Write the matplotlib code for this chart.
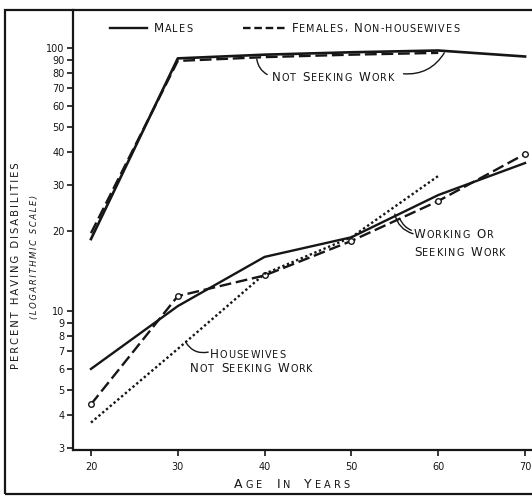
import matplotlib
matplotlib.use("Agg")
import matplotlib.pyplot as plt
from matplotlib.lines import Line2D
from matplotlib.patches import Rectangle
from matplotlib.offsetbox import TextArea, HPacker, VPacker, DrawingArea, AnnotationBbox

# values (percent having disabilities, log scale)
ages = [20, 30, 40, 50, 60, 70]
male_not_seeking = [18.7, 91, 94, 96, 97.5, 92.5]
female_not_seeking = [19.7, 89, 92, 94, 95.5]
male_working = [6.0, 10.4, 16.0, 19.0, 27.5, 36.4]
female_working = [4.4, 11.35, 13.6, 18.4, 26.1, 39.4]
housewives = [3.75, 7.15, 13.8, 19.0, 32.5]

y_ticks = [3, 4, 5, 6, 7, 8, 9, 10, 20, 30, 40, 50, 60, 70, 80, 90, 100]
x_ticks = [20, 30, 40, 50, 60, 70]

INK = "#161616"
plt.rcParams["font.family"] = ["DejaVu Sans"]


def smallcaps(text, big=8.6, small=6.9, track=0.7, gap=5):
    # hand-lettered look: first letter of each word larger, the rest small caps
    words = []
    for w in text.split():
        letters = []
        for i, ch in enumerate(w):
            size = big if i == 0 else small
            letters.append(TextArea(ch.upper(), textprops=dict(fontsize=size, color=INK)))
        words.append(HPacker(children=letters, sep=track, align="baseline", pad=0))
    return HPacker(children=words, sep=gap, align="baseline", pad=0)


def place(ax, box, xy, coords="data", align=(0, 0.5)):
    ab = AnnotationBbox(box, xy, xycoords=coords, box_alignment=align,
                        frameon=False, pad=0, annotation_clip=False)
    ax.add_artist(ab)


def connector(ax, start, end, rad):
    ax.annotate("", xy=end, xytext=start,
                arrowprops=dict(arrowstyle="-", color=INK, lw=1.0,
                                connectionstyle=f"arc3,rad={rad}",
                                shrinkA=0, shrinkB=0))


fig = plt.figure(figsize=(5.32, 4.97), dpi=100)
ax = fig.add_axes([73 / 532, 47 / 497, 459 / 532, 440 / 497])

dash = (0, (5, 2))
ax.plot(ages, male_not_seeking, color=INK, lw=1.9)
ax.plot(ages[:5], female_not_seeking, color=INK, lw=1.7, linestyle=dash)
ax.plot(ages, male_working, color=INK, lw=1.7)
ax.plot(ages, female_working, color=INK, lw=1.7, linestyle=dash,
        marker="o", markersize=4, mfc="white", mec=INK, mew=1)
ax.plot(ages[:5], housewives, color=INK, lw=1.7, linestyle=(0, (1, 1.1)))

ax.set_yscale("log")
ax.set_xlim(17.93, 70.8)
ax.set_ylim(2.95, 139)
ax.set_yticks(y_ticks)
ax.set_yticklabels([str(v) for v in y_ticks])
ax.yaxis.set_minor_locator(matplotlib.ticker.NullLocator())
ax.set_xticks(x_ticks)
ax.set_xticklabels([str(v) for v in x_ticks])
ax.tick_params(direction="out", length=4, width=1.2, colors=INK, labelsize=7, pad=2)
ax.tick_params(axis="x", pad=5)
for side in ["top", "right"]:
    ax.spines[side].set_visible(False)
for side in ["left", "bottom"]:
    ax.spines[side].set_linewidth(1.6)
    ax.spines[side].set_color(INK)

# legend built by hand so the labels can be in small caps
def key(ls, width):
    da = DrawingArea(width, 6, 0, 0)
    da.add_artist(Line2D([0, width], [3, 3], color=INK, lw=1.7, linestyle=ls))
    return da

place(ax, HPacker(children=[key("-", 26.5), smallcaps("Males")], sep=5, align="center", pad=0),
      (110, 497 - 28), coords="figure pixels")
place(ax, HPacker(children=[key((0, (3.2, 1.6)), 30), smallcaps("Females, Non-housewives")],
                  sep=5, align="center", pad=0),
      (243, 497 - 28), coords="figure pixels")

# annotations
place(ax, smallcaps("Not Seeking Work"), (40.8, 77))
connector(ax, (40.3, 79), (39.1, 90.5), -0.25)
connector(ax, (56.0, 79.5), (60.7, 95.5), 0.3)

two = VPacker(children=[smallcaps("Working or"), smallcaps("Seeking Work")],
              sep=4, align="left", pad=0)
place(ax, two, (57.2, 18.0))
connector(ax, (57.1, 19.6), (55.0, 23.3), -0.3)
connector(ax, (56.9, 20.2), (55.6, 22.3), -0.2)

place(ax, smallcaps("Housewives"), (33.7, 6.78))
place(ax, smallcaps("Not Seeking Work"), (31.4, 6.0))
connector(ax, (33.5, 6.95), (30.9, 7.6), -0.35)

# axis titles
place(ax, smallcaps("Age in Years", big=9, small=7, track=2.2, gap=10),
      (292, 497 - 485), coords="figure pixels", align=(0.5, 0.5))
fig.text(16 / 532, 1 - 266 / 497, "\u2009".join("PERCENT HAVING DISABILITIES"),
         rotation=90, ha="center", va="center", fontsize=7.2, color=INK)
fig.text(34 / 532, 1 - 257 / 497, "\u2009".join("(LOGARITHMIC SCALE)"),
         rotation=90, ha="center", va="center", fontsize=6, style="italic", color=INK)

# outer frame round the whole figure
fig.patches.append(Rectangle((5 / 532, 3 / 497), 1.2, 484 / 497, transform=fig.transFigure,
                             fill=False, lw=1.6, edgecolor=INK))

fig.savefig("out.png", dpi=100)
